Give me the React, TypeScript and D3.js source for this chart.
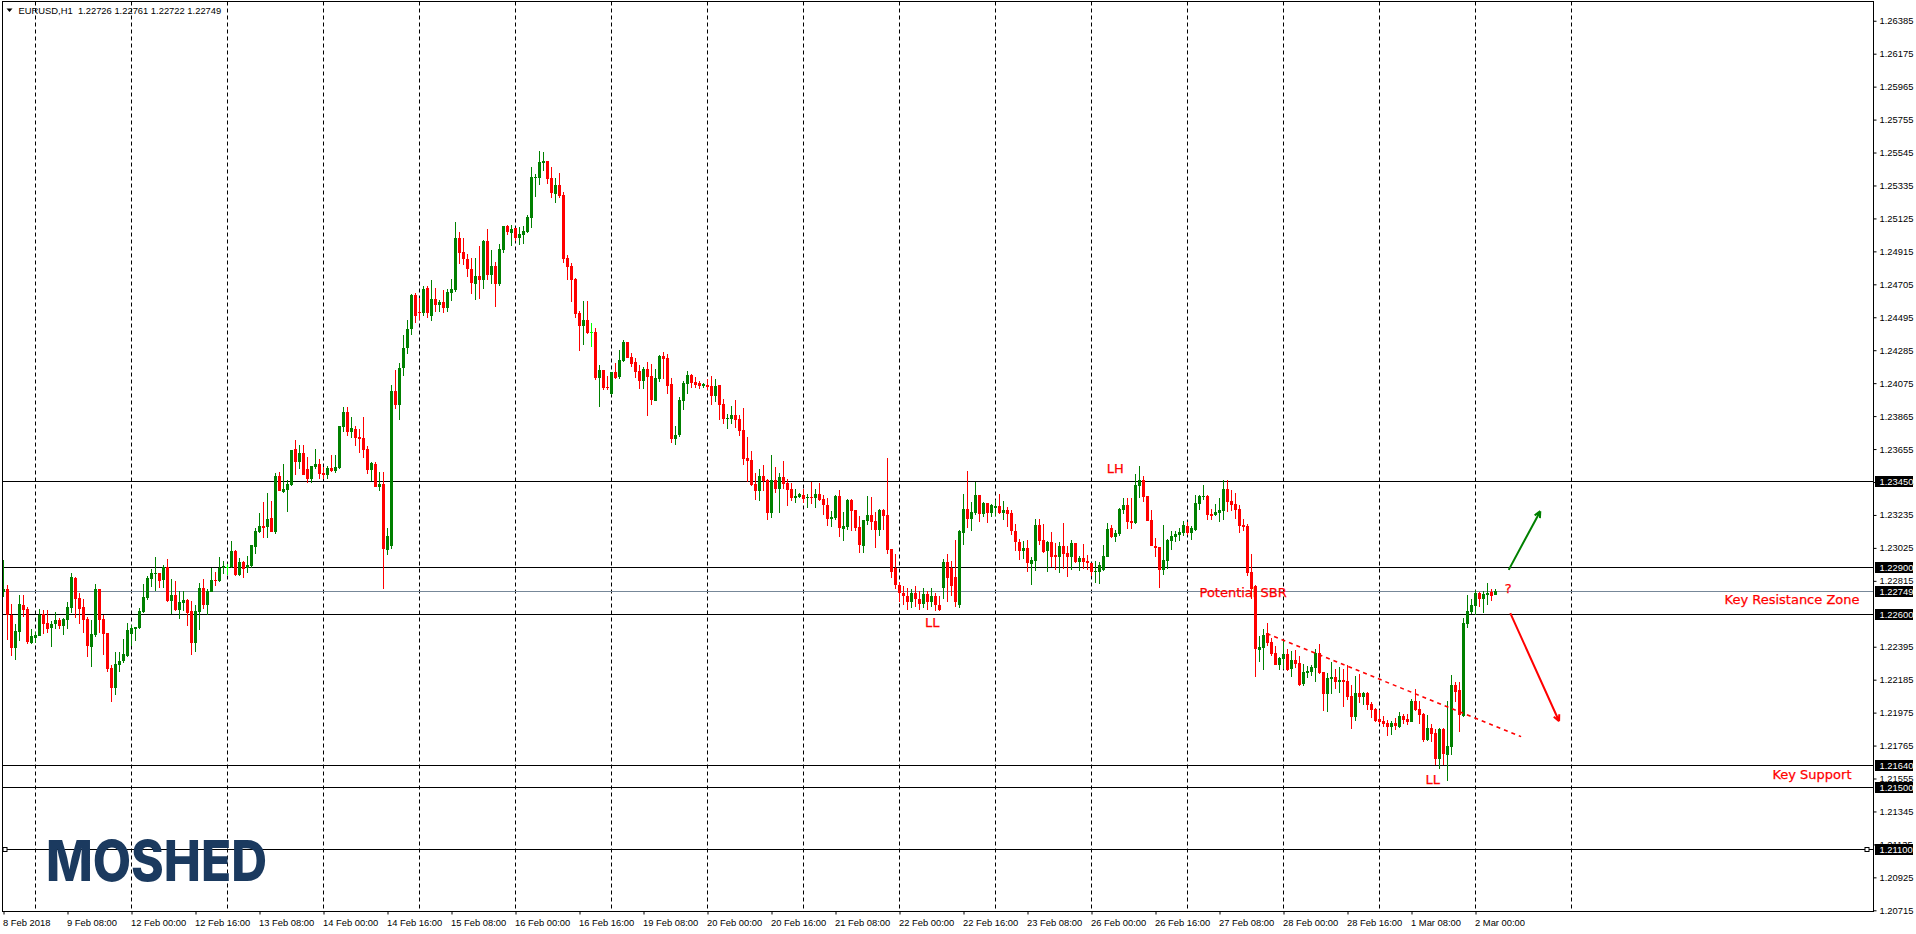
import React, { useEffect, useRef } from 'react';
import * as d3 from 'd3';

// EURUSD H1 candles, prices in points (1.22749 = 122749)
const opens = [
  122744,122765,122600,122387,122490,122659,122634,122417,122449,122462,
  122606,122545,122513,122538,122564,122525,122564,122640,122831,122704,
  122647,122570,122392,122468,122761,122570,122481,122258,122130,122277,
  122303,122334,122474,122506,122513,122615,122704,122825,122857,122864,
  122819,122902,122685,122723,122627,122672,122691,122621,122417,122615,
  122768,122659,122742,122819,122813,122900,122905,122902,123004,122851,
  122934,122896,122908,123029,123125,123163,123157,123214,123125,123482,
  123380,123392,123424,123654,123571,123628,123526,123463,123539,123558,
  123500,123488,123533,123514,123533,123794,123889,123763,123782,123731,
  123724,123654,123520,123559,123412,123431,123010,123040,124024,123935,
  124170,124300,124420,124635,124530,124520,124680,124500,124609,124571,
  124590,124552,124648,124667,124998,124909,124865,124801,124705,124756,
  124731,124979,124763,124820,124705,124922,125075,125030,125062,124998,
  125017,125037,125126,125380,125380,125476,125489,125380,125279,125336,
  125272,124871,124820,124737,124521,124438,124476,124404,124400,124107,
  124158,124049,124005,124145,124113,124215,124336,124240,124209,124151,
  124087,124164,124119,123960,124100,124247,124234,124068,123718,123743,
  123960,124068,124126,124081,124075,124056,124062,124056,123992,124062,
  123941,123845,123845,123871,123845,123775,123597,123584,123431,123386,
  123482,123457,123246,123457,123399,123476,123437,123399,123342,123348,
  123361,123348,123350,123342,123367,123336,123297,123208,123214,123354,
  123144,123157,123329,123265,123157,123036,123195,123233,123195,123137,
  123265,123233,123016,122895,122790,122740,122720,122680,122740,122700,
  122670,122730,122680,122720,122660,122770,122934,122898,122840,122660,
  123118,123271,123208,123246,123360,123239,123309,123246,123278,123290,
  123246,123265,123246,123131,123061,123004,123023,122921,122940,123169,
  123074,123004,123061,122978,122965,123036,122991,122965,123055,122934,
  122959,122940,122927,122870,122870,122883,122966,123150,123093,123112,
  123265,123297,123195,123182,123418,123456,123354,123201,123036,123029,
  122883,122940,123068,123093,123106,123119,123163,123119,123138,123303,
  123348,123354,123240,123233,123246,123259,123399,123322,123303,123271,
  123170,123163,122870,122780,122373,122385,122481,122424,122354,122277,
  122315,122347,122252,122309,122290,122156,122226,122233,122258,122354,
  122233,122092,122188,122201,122169,122182,122175,122079,121946,122099,
  122073,122099,122029,121997,121933,121920,121908,121882,121908,121882,
  121952,121933,121914,122048,121997,121965,121799,121876,121844,121678,
  121869,121704,121755,122150,122118,121952,122538,122615,122653,122737,
  122699,122724,122743,122726,
];
const highs = [
  122946,122787,122666,122542,122723,122723,122649,122510,122489,122634,
  122627,122632,122557,122615,122576,122576,122678,122864,122838,122736,
  122697,122583,122564,122793,122761,122596,122481,122277,122360,122360,
  122443,122545,122532,122519,122640,122798,122845,122893,122968,122864,
  122915,122953,122825,122812,122748,122748,122697,122685,122660,122800,
  122825,122761,122895,122870,122966,122940,122920,123068,123010,122959,
  122940,122972,123042,123150,123246,123316,123373,123322,123500,123507,
  123558,123456,123647,123711,123679,123679,123603,123545,123654,123590,
  123540,123545,123616,123616,123800,123921,123921,123858,123801,123782,
  123858,123673,123571,123571,123508,123508,123150,124062,124158,124202,
  124380,124480,124642,124648,124620,124693,124693,124731,124680,124603,
  124667,124673,124737,125100,125037,124998,124896,124871,124871,124947,
  124986,125056,124922,124845,124960,125075,125081,125081,125062,125069,
  125075,125145,125451,125406,125553,125546,125489,125451,125380,125413,
  125291,124890,124839,124744,124533,124597,124597,124457,124425,124189,
  124158,124119,124145,124202,124285,124349,124336,124266,124234,124189,
  124177,124209,124196,124164,124253,124272,124259,124107,123801,123985,
  124087,124151,124132,124113,124087,124075,124100,124119,124100,124062,
  123973,123877,123928,123966,123871,123915,123731,123641,123501,123527,
  123552,123463,123616,123540,123501,123578,123463,123437,123399,123374,
  123399,123367,123446,123399,123437,123361,123340,123259,123360,123392,
  123252,123335,123335,123265,123227,123201,123354,123348,123252,123271,
  123271,123596,123020,122985,122810,122780,122770,122760,122780,122750,
  122770,122750,122770,122740,122720,122953,122985,122940,123074,123137,
  123367,123513,123316,123443,123360,123316,123309,123303,123329,123367,
  123322,123284,123265,123176,123080,123067,123074,122965,123208,123208,
  123176,123067,123125,123055,123061,123182,123036,123074,123055,122972,
  123048,122978,122927,122940,122934,123042,123182,123170,123138,123278,
  123342,123342,123342,123494,123545,123482,123354,123265,123087,123029,
  123170,123080,123131,123131,123150,123195,123189,123163,123361,123361,
  123424,123361,123271,123303,123342,123456,123456,123392,123373,123297,
  123208,123176,122985,122790,122462,122506,122545,122449,122398,122328,
  122436,122379,122366,122373,122334,122283,122271,122277,122379,122411,
  122233,122226,122296,122252,122264,122252,122277,122150,122207,122220,
  122105,122105,122041,122003,121990,121952,121927,121920,121939,121978,
  121965,121965,122060,122124,122048,121971,121959,121901,121869,121876,
  121876,122048,122213,122169,122169,122577,122723,122698,122756,122743,
  122750,122801,122762,122761,
];
const lows = [
  122710,122436,122334,122309,122430,122585,122411,122411,122419,122462,
  122474,122483,122392,122506,122506,122468,122506,122608,122576,122538,
  122485,122328,122264,122455,122481,122341,122232,122041,122086,122232,
  122290,122330,122398,122430,122506,122608,122691,122774,122749,122768,
  122768,122678,122602,122621,122570,122621,122525,122341,122360,122500,
  122634,122600,122742,122780,122808,122860,122850,122900,122845,122845,
  122832,122864,122900,122985,123119,123087,123087,123125,123112,123386,
  123373,123252,123418,123488,123526,123488,123437,123437,123530,123463,
  123463,123463,123507,123501,123526,123762,123737,123724,123673,123629,
  123597,123495,123450,123412,123390,122760,122980,123020,123909,123839,
  124120,124260,124380,124460,124480,124500,124490,124470,124530,124530,
  124520,124530,124597,124654,124833,124826,124750,124642,124603,124609,
  124673,124731,124705,124559,124693,124903,125017,124947,124979,124954,
  124960,125030,125062,125260,125336,125425,125342,125253,125221,125253,
  124839,124731,124591,124489,124279,124317,124390,124304,124094,123922,
  124030,124030,123998,124100,124100,124209,124234,124177,124107,124036,
  124036,123864,123934,123960,124081,124100,124005,123692,123680,123730,
  123903,124005,124043,124043,124036,124043,124030,123934,123954,123839,
  123813,123782,123813,123788,123737,123552,123444,123418,123329,123323,
  123390,123200,123214,123374,123246,123399,123291,123323,123310,123342,
  123310,123278,123304,123278,123323,123234,123163,123157,123201,123093,
  123067,123137,123131,123131,122991,122991,123169,123137,123023,123099,
  123137,122985,122830,122760,122680,122660,122630,122640,122650,122630,
  122640,122630,122650,122620,122620,122700,122680,122720,122650,122640,
  123042,123150,123131,123233,123189,123220,123182,123220,123227,123239,
  123201,123157,123106,123004,122946,122953,122870,122787,122880,123042,
  122990,122870,122902,122883,122864,122889,122838,122883,122930,122876,
  122889,122883,122844,122800,122794,122876,122966,123087,123061,123100,
  123240,123144,123144,123176,123342,123316,123195,123036,122966,122768,
  122851,122889,123010,123061,123068,123100,123106,123074,123131,123265,
  123329,123201,123201,123227,123189,123201,123252,123259,123208,123119,
  123131,122845,122698,122201,122296,122245,122398,122334,122277,122245,
  122252,122239,122201,122258,122143,122143,122194,122207,122169,122220,
  121984,121978,122092,122124,122099,122009,122054,121869,121920,122035,
  122022,121990,121939,121914,121901,121882,121825,121831,121863,121876,
  121901,121895,121914,121984,121901,121786,121793,121786,121640,121614,
  121640,121538,121704,122041,121850,121946,122513,122602,122597,122648,
  122609,122660,122686,122722,
];
const closes = [
  122765,122596,122387,122494,122666,122627,122424,122462,122468,122600,
  122538,122506,122542,122564,122525,122570,122647,122838,122697,122634,
  122564,122398,122474,122761,122564,122474,122251,122130,122283,122303,
  122347,122500,122513,122519,122621,122710,122831,122863,122864,122813,
  122902,122685,122723,122627,122678,122691,122608,122417,122621,122768,
  122659,122748,122819,122812,122900,122908,122905,123004,122851,122934,
  122889,122915,123042,123131,123163,123150,123208,123125,123482,123386,
  123399,123431,123647,123571,123628,123488,123463,123545,123558,123494,
  123488,123533,123514,123539,123800,123889,123762,123788,123724,123718,
  123648,123520,123565,123412,123431,123017,123100,124024,123935,124170,
  124300,124420,124635,124500,124520,124673,124520,124609,124571,124590,
  124552,124654,124673,124998,124903,124865,124801,124712,124756,124731,
  124979,124763,124820,124705,124928,125075,125037,125056,124998,125024,
  125043,125132,125387,125387,125483,125489,125374,125285,125336,125266,
  124865,124814,124731,124514,124438,124476,124393,124404,124107,124158,
  124043,124043,124145,124107,124221,124336,124234,124196,124145,124087,
  124164,124113,123966,124107,124247,124228,124056,123718,123743,123966,
  124075,124126,124075,124062,124056,124068,124049,123992,124056,123934,
  123845,123852,123871,123839,123769,123590,123578,123425,123386,123482,
  123450,123246,123457,123399,123476,123431,123393,123342,123355,123367,
  123336,123350,123348,123367,123329,123297,123208,123220,123354,123150,
  123163,123329,123259,123150,123042,123201,123233,123188,123137,123265,
  123227,123010,122870,122790,122740,122720,122680,122740,122700,122670,
  122730,122680,122720,122660,122630,122934,122830,122780,122680,123131,
  123271,123208,123252,123360,123239,123309,123246,123297,123290,123246,
  123265,123239,123131,123061,123004,123023,122929,122946,123169,123067,
  122997,123061,122965,122965,123036,122985,122965,123055,122934,122959,
  122934,122927,122870,122876,122915,122972,123144,123093,123119,123271,
  123297,123189,123182,123424,123456,123348,123195,123036,123023,122883,
  122946,123074,123099,123112,123125,123169,123119,123150,123310,123354,
  123354,123233,123227,123252,123265,123399,123316,123297,123265,123163,
  123157,122864,122760,122379,122392,122468,122417,122347,122277,122322,
  122347,122245,122309,122283,122150,122233,122239,122264,122354,122226,
  122092,122194,122201,122169,122182,122169,122073,121946,122099,122073,
  122099,122022,121990,121920,121914,121901,121882,121908,121888,121952,
  121927,121914,122048,121990,121959,121799,121876,121837,121678,121869,
  121710,121761,122150,122105,121959,122545,122621,122659,122737,122699,
  122730,122737,122718,122749,
];

const priceTicks = [
  1.26385, 1.26175, 1.25965, 1.25755, 1.25545, 1.25335, 1.25125, 1.24915, 1.24705, 1.24495, 1.24285,
  1.24075, 1.23865, 1.23655, 1.23445, 1.23235, 1.23025, 1.22815, 1.22395, 1.22185, 1.21975, 1.21765,
  1.21555, 1.21345, 1.21135, 1.20925, 1.20715,
];
const levels = [1.2345, 1.229, 1.226, 1.2164, 1.215, 1.211];
const bidPrice = 1.22749;

const timeLabels = [
  '8 Feb 2018', '9 Feb 08:00', '12 Feb 00:00', '12 Feb 16:00', '13 Feb 08:00', '14 Feb 00:00',
  '14 Feb 16:00', '15 Feb 08:00', '16 Feb 00:00', '16 Feb 16:00', '19 Feb 08:00', '20 Feb 00:00',
  '20 Feb 16:00', '21 Feb 08:00', '22 Feb 00:00', '22 Feb 16:00', '23 Feb 08:00', '26 Feb 00:00',
  '26 Feb 16:00', '27 Feb 08:00', '28 Feb 00:00', '28 Feb 16:00', '1 Mar 08:00', '2 Mar 00:00',
];
const labelBars = timeLabels.map((_, i) => i * 16);
// daily separators, every 24 bars
const gridBars = d3.range(8, 400, 24);

// drawn objects: [bar, price]
const trendLine: [number, number][] = [[315.8, 1.22479], [379.4, 1.21822]];
const upArrow: [number, number][] = [[376.3, 1.22885], [384.2, 1.23259]];
const downArrow: [number, number][] = [[376.7, 1.22609], [388.9, 1.2192]];

// text notes: [label, bar, price, anchor]
const notes: [string, number, number, string][] = [
  ['LH', 275.8, 1.23500, 'start'],
  ['LL', 230.4, 1.22521, 'start'],
  ['LL', 355.5, 1.21520, 'start'],
  ['Potential SBR', 299, 1.22713, 'start'],
  ['?', 375.3, 1.22739, 'start'],
  ['Key Resistance Zone', 464, 1.22667, 'end'],
  ['Key Support', 462, 1.21555, 'end'],
];

const WIDTH = 1916;
const HEIGHT = 934;
const FONT = '"Liberation Sans", Arial, sans-serif';
const NOTE_FONT = '"DejaVu Sans", Verdana, sans-serif';

const App: React.FC = () => {
  const svgRef = useRef<SVGSVGElement>(null);

  useEffect(() => {
    if (!svgRef.current) return;
    document.body.style.margin = '0';

    const svg = d3.select(svgRef.current);
    svg.selectAll('*').remove();

    const plot = { left: 2.5, right: 1873.5, top: 1.5, bottom: 911.5 };

    const x = d3.scaleLinear().domain([0, 1]).range([3.5, 7.5]);
    const y = d3.scaleLinear().domain([1.229, 1.211]).range([567.5, 849.9]);
    const py = (p: number) => Math.floor(y(p)) + 0.5;

    // Daily separators
    svg.append('g')
      .selectAll('line')
      .data(gridBars)
      .enter()
      .append('line')
      .attr('x1', d => x(d))
      .attr('x2', d => x(d))
      .attr('y1', plot.top)
      .attr('y2', plot.bottom)
      .attr('stroke', '#000')
      .attr('stroke-dasharray', '4,3');

    // Horizontal levels
    svg.append('g')
      .selectAll('line')
      .data(levels)
      .enter()
      .append('line')
      .attr('x1', plot.left)
      .attr('x2', plot.right)
      .attr('y1', d => py(d))
      .attr('y2', d => py(d))
      .attr('stroke', '#000');

    svg.append('line')
      .attr('x1', plot.left)
      .attr('x2', plot.right)
      .attr('y1', py(bidPrice))
      .attr('y2', py(bidPrice))
      .attr('stroke', '#778899');

    // Candles
    const colorOf = (i: number) =>
      closes[i] > opens[i] ? '#008000' : closes[i] < opens[i] ? '#ff0000' : '#00ff00';
    const pt = (v: number) => v / 100000;

    const candles = svg.append('g')
      .selectAll('g')
      .data(d3.range(opens.length))
      .enter()
      .append('g');

    candles.append('rect')
      .attr('x', i => x(i) - 0.5)
      .attr('width', 1)
      .attr('y', i => Math.round(y(pt(highs[i]))))
      .attr('height', i => Math.max(1, Math.round(y(pt(lows[i]))) - Math.round(y(pt(highs[i])))))
      .attr('fill', colorOf);

    candles.append('rect')
      .attr('x', i => x(i) - 1.5)
      .attr('width', 3)
      .attr('y', i => Math.round(y(pt(Math.max(opens[i], closes[i])))))
      .attr('height', i => Math.max(1,
        Math.round(y(pt(Math.min(opens[i], closes[i])))) - Math.round(y(pt(Math.max(opens[i], closes[i]))))))
      .attr('fill', colorOf);

    // Handles on the lowest level
    svg.append('g')
      .selectAll('rect')
      .data([5, 1867])
      .enter()
      .append('rect')
      .attr('x', d => d - 2)
      .attr('y', py(1.211) - 2)
      .attr('width', 4)
      .attr('height', 4)
      .attr('fill', '#fff')
      .attr('stroke', '#000');

    // Falling trend line
    const line = d3.line<[number, number]>().x(d => x(d[0])).y(d => y(d[1]));
    svg.append('path')
      .attr('d', line(trendLine))
      .attr('fill', 'none')
      .attr('stroke', '#ff0000')
      .attr('stroke-width', 1.6)
      .attr('stroke-dasharray', '4,4');

    // Scenario arrows
    const drawArrow = (pts: [number, number][], color: string) => {
      const [x0, y0] = [x(pts[0][0]), y(pts[0][1])];
      const [x1, y1] = [x(pts[1][0]), y(pts[1][1])];
      const a = Math.atan2(y1 - y0, x1 - x0);
      const len = 7;
      const head = [a + 2.7, a - 2.7].map(t => `M${x1},${y1}L${x1 + len * Math.cos(t)},${y1 + len * Math.sin(t)}`);
      svg.append('path')
        .attr('d', `M${x0},${y0}L${x1},${y1}${head.join('')}`)
        .attr('fill', 'none')
        .attr('stroke', color)
        .attr('stroke-width', 2);
    };
    drawArrow(upArrow, '#008000');
    drawArrow(downArrow, '#ff0000');

    // Notes
    svg.append('g')
      .selectAll('text')
      .data(notes)
      .enter()
      .append('text')
      .attr('x', d => x(d[1]))
      .attr('y', d => y(d[2]))
      .attr('text-anchor', d => d[3])
      .style('font-family', NOTE_FONT)
      .style('font-size', '13px')
      .style('fill', '#ff0000')
      .style('stroke', '#ff0000')
      .style('stroke-width', 0.25)
      .text(d => d[0]);

    // Watermark
    svg.append('text')
      .attr('x', 46)
      .attr('y', 881)
      .attr('textLength', 221)
      .attr('lengthAdjust', 'spacingAndGlyphs')
      .style('font-family', 'Inter, Roboto, sans-serif')
      .style('font-weight', 800)
      .style('font-size', '56px')
      .style('fill', '#1b3a5f')
      .text('MOSHED');

    // Frame
    svg.append('rect')
      .attr('x', plot.left)
      .attr('y', plot.top)
      .attr('width', plot.right - plot.left)
      .attr('height', plot.bottom - plot.top)
      .attr('fill', 'none')
      .attr('stroke', '#000');

    // Price axis
    const yAxis = svg.append('g')
      .attr('transform', `translate(${plot.right}, 0)`)
      .call(d3.axisRight(y).tickValues(priceTicks).tickFormat(d3.format('.5f')).tickSize(3).tickPadding(3));
    yAxis.select('.domain').remove();
    yAxis.selectAll('text')
      .style('font-family', FONT)
      .style('font-size', '9.4px')
      .style('fill', '#000');

    // Current value tags
    const tags = svg.append('g')
      .selectAll('g')
      .data([...levels, bidPrice])
      .enter()
      .append('g')
      .attr('transform', d => `translate(0, ${py(d)})`);
    tags.append('rect')
      .attr('x', 1875)
      .attr('y', -5.5)
      .attr('width', 38)
      .attr('height', 11)
      .attr('fill', '#000');
    tags.append('text')
      .attr('x', 1879.5)
      .attr('y', 3.5)
      .style('font-family', FONT)
      .style('font-size', '9.4px')
      .style('fill', '#fff')
      .text(d => d3.format('.5f')(d));

    // Time axis
    const xAxis = svg.append('g')
      .attr('transform', `translate(0, ${plot.bottom})`)
      .call(d3.axisBottom(x).tickValues(labelBars).tickFormat((_, i) => timeLabels[i]).tickSize(3).tickPadding(5));
    xAxis.select('.domain').remove();
    xAxis.selectAll('text')
      .attr('text-anchor', 'start')
      .attr('dx', -1)
      .style('font-family', FONT)
      .style('font-size', '9.4px')
      .style('fill', '#000');

    // Chart caption
    svg.append('path')
      .attr('d', 'M6.5,8.5L12.5,8.5L9.5,12Z')
      .attr('fill', '#000');
    svg.append('text')
      .attr('x', 18.5)
      .attr('y', 13.5)
      .attr('xml:space', 'preserve')
      .style('font-family', FONT)
      .style('font-size', '9.4px')
      .style('white-space', 'pre')
      .style('fill', '#000')
      .text('EURUSD,H1  1.22726 1.22761 1.22722 1.22749');
  }, []);

  return <svg ref={svgRef} width={WIDTH} height={HEIGHT} style={{ display: 'block', background: '#fff' }} />;
};

export default App;
